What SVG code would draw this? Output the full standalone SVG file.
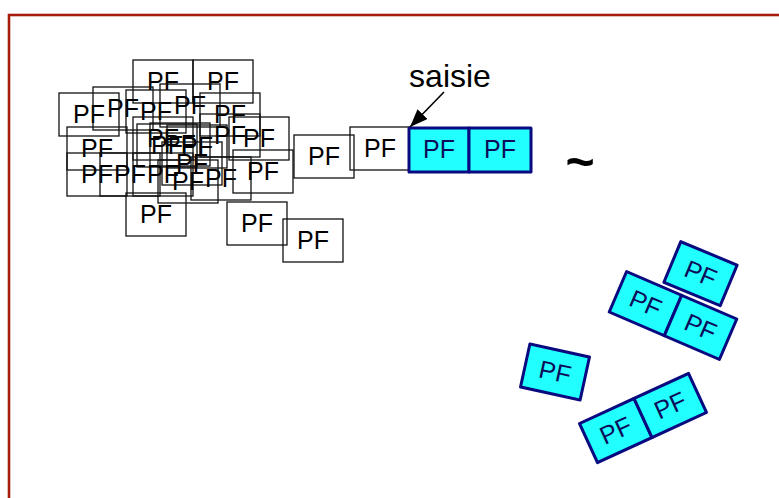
<svg xmlns="http://www.w3.org/2000/svg" width="779" height="498" viewBox="0 0 779 498">
<style>
.w rect{fill:none;stroke:#111;stroke-width:1.3}
.w text,.b text{font-family:"Liberation Sans",Arial,sans-serif;font-size:25px;text-anchor:middle}
.w text{fill:#000}
.b rect{fill:#22ffff;stroke:#0a0a80;stroke-width:3;stroke-linejoin:round}
.b text{fill:#0c0c5a}
.lbl{font-family:"Liberation Sans",Arial,sans-serif;fill:#000}
</style>
<defs>
<marker id="ah2" viewBox="0 0 18 14" refX="18" refY="7" markerWidth="18" markerHeight="14" markerUnits="userSpaceOnUse" orient="auto">
<path d="M0,0 L18,7 L0,14 z" fill="#000"/>
</marker>
</defs>
<rect x="9" y="15" width="800" height="520" fill="none" stroke="#a81c0c" stroke-width="2.6"/>

<g id="cluster" class="w">
<g id="n1"><rect x="133" y="60" width="60" height="43"/><text x="163" y="90">PF</text></g>
<g id="n2"><rect x="193" y="60" width="60" height="43"/><text x="223" y="90">PF</text></g>
<g id="n3"><rect x="59" y="93" width="60" height="43"/><text x="89" y="123">PF</text></g>
<g id="n4"><rect x="93" y="87" width="60" height="43"/><text x="123" y="117">PF</text></g>
<g id="n5"><rect x="126" y="90" width="60" height="43"/><text x="156" y="120">PF</text></g>
<g id="n6"><rect x="160" y="84" width="60" height="43"/><text x="190" y="114">PF</text></g>
<g id="n7"><rect x="200" y="93" width="60" height="43"/><text x="230" y="123">PF</text></g>
<g id="n8"><rect x="200" y="114" width="60" height="43"/><text x="230" y="144">PF</text></g>
<g id="n9"><rect x="229" y="117" width="60" height="43"/><text x="259" y="147">PF</text></g>
<g id="n10"><rect x="133" y="117" width="60" height="43"/><text x="163" y="147">PF</text></g>
<g id="n11"><rect x="137" y="124" width="60" height="43"/><text x="167" y="154">PF</text></g>
<g id="n12"><rect x="150" y="123" width="60" height="43"/><text x="180" y="153">PF</text></g>
<g id="n13"><rect x="167" y="125" width="60" height="43"/><text x="197" y="155">PF</text></g>
<g id="n14"><rect x="67" y="127" width="60" height="43"/><text x="97" y="157">PF</text></g>
<g id="n15"><rect x="67" y="153" width="60" height="43"/><text x="97" y="183">PF</text></g>
<g id="n16"><rect x="100" y="153" width="60" height="43"/><text x="130" y="183">PF</text></g>
<g id="n17"><rect x="133" y="153" width="60" height="43"/><text x="163" y="183">PF</text></g>
<g id="n18"><rect x="162" y="142" width="60" height="43"/><text x="192" y="172">PF</text></g>
<g id="n19"><rect x="158" y="160" width="60" height="43"/><text x="188" y="190">PF</text></g>
<g id="n20"><rect x="191" y="157" width="60" height="43"/><text x="221" y="187">PF</text></g>
<g id="n21"><rect x="233" y="150" width="60" height="43"/><text x="263" y="180">PF</text></g>
<g id="n22"><rect x="126" y="193" width="60" height="43"/><text x="156" y="223">PF</text></g>
<g id="n23"><rect x="227" y="202" width="60" height="43"/><text x="257" y="232">PF</text></g>
<g id="n24"><rect x="283" y="219" width="60" height="43"/><text x="313" y="249">PF</text></g>
<g id="n25"><rect x="294" y="135" width="60" height="43"/><text x="324" y="165">PF</text></g>
<g id="n26"><rect x="350" y="127" width="59" height="43"/><text x="380" y="157">PF</text></g>
</g>

<g id="queue" class="b">
<rect x="409" y="128" width="60" height="44"/><text x="439" y="158">PF</text>
<rect x="469" y="128" width="62" height="44"/><text x="500" y="158">PF</text>
</g>

<g id="connectors">
<line x1="444" y1="92" x2="410" y2="127" stroke="#000" stroke-width="1.6" marker-end="url(#ah2)"/>
</g>
<text class="lbl" x="450" y="87" font-size="32" text-anchor="middle">saisie</text>
<text class="lbl" x="580" y="179" font-size="50" font-weight="bold" text-anchor="middle">~</text>

<g id="g1" class="b" transform="translate(555,372) rotate(12.3)">
<rect x="-30.5" y="-22" width="61" height="44"/><text x="0" y="8.5">PF</text>
</g>
<g id="g2" class="b" transform="translate(643,418) rotate(-24.7)">
<rect x="-60" y="-21.5" width="60" height="43"/><text x="-30" y="8.5">PF</text>
<rect x="0" y="-21.5" width="60" height="43"/><text x="30" y="8.5">PF</text>
</g>
<g id="g3" class="b" transform="translate(673,315.5) rotate(23.3)">
<rect x="-60" y="-22" width="60" height="44"/><text x="-30" y="8.5">PF</text>
<rect x="0" y="-22" width="60" height="44"/><text x="30" y="8.5">PF</text>
</g>
<g id="g4" class="b" transform="translate(700.5,273.7) rotate(22.6)">
<rect x="-30.5" y="-22" width="61" height="44"/><text x="0" y="8.5">PF</text>
</g>
</svg>
